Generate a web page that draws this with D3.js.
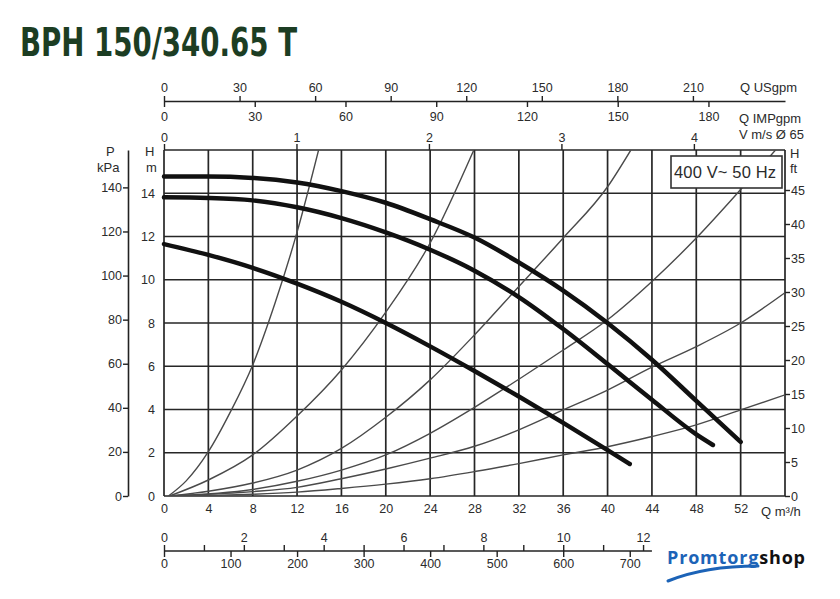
<!DOCTYPE html>
<html>
<head>
<meta charset="utf-8">
<script src="https://cdn.jsdelivr.net/npm/d3@7"></script>
<style>
  body { margin: 0; background: #fff; }
  text { font-family: "Liberation Sans", Arial, sans-serif; fill: #2b2b2b; }
</style>
</head>
<body>
<script>
// flow ticks (m3/h) and head ticks (m)
let qTicks = [0, 4, 8, 12, 16, 20, 24, 28, 32, 36, 40, 44, 48, 52];
let hTicks = [0, 2, 4, 6, 8, 10, 12, 14, 16];
let kpaTicks = [0, 20, 40, 60, 80, 100, 120, 140];
let ftTicks = [0, 5, 10, 15, 20, 25, 30, 35, 40, 45];
let usTicks = [0, 30, 60, 90, 120, 150, 180, 210];
let impTicks = [0, 30, 60, 90, 120, 150, 180];
let velTicks = [0, 1, 2, 3, 4];
let lsTicks = [0, 1, 2, 3, 4, 5, 6, 7, 8, 9, 10, 11, 12];
let lminTicks = [0, 100, 200, 300, 400, 500, 600, 700];

// pump curves [Q m3/h, H m]
let pumpMax = [[0, 14.77], [4, 14.77], [8, 14.71], [12, 14.5], [16, 14.1], [20, 13.56], [24, 12.8], [28, 11.95], [32, 10.8], [36, 9.5], [40, 8.0], [44, 6.3], [48, 4.4], [52, 2.5]];
let pumpMid = [[0, 13.81], [4, 13.78], [8, 13.67], [12, 13.35], [16, 12.85], [20, 12.19], [24, 11.39], [28, 10.42], [32, 9.2], [36, 7.72], [40, 6.1], [44, 4.45], [48, 2.85], [49.5, 2.36]];
let pumpMin = [[0, 11.65], [4, 11.15], [8, 10.55], [12, 9.82], [16, 8.98], [20, 8.0], [24, 6.92], [28, 5.78], [32, 4.6], [36, 3.38], [40, 2.12], [42, 1.48]];

// system curves
let sysA = [[0.4, 0], [2, 0.7], [4, 2.05], [6, 3.9], [8, 6.06], [10, 8.9], [12, 12.2], [13.94, 16]];
let sysB = [[0.5, 0], [4, 0.74], [8, 1.9], [12, 3.7], [16, 5.83], [20, 8.5], [24, 11.7], [27.94, 16]];
let sysC = [[0.5, 0], [4, 0.22], [8, 0.6], [12, 1.2], [16, 2.2], [20, 3.64], [24, 5.37], [28, 7.45], [32, 9.69], [36, 11.93], [40, 14.3], [42.1, 16]];
let sysD = [[0.5, 0], [8, 0.3], [12, 0.68], [16, 1.2], [20, 1.9], [24, 2.9], [28, 4.1], [32, 5.4], [36, 6.75], [40, 8.15], [44, 9.92], [48, 11.93], [52, 14.17], [56, 16.5]];
let sysE = [[0.5, 0], [8, 0.2], [12, 0.4], [16, 0.8], [20, 1.25], [24, 1.75], [28, 2.3], [32, 3.06], [36, 3.98], [40, 4.9], [44, 5.96], [48, 6.91], [52, 8.0], [56, 9.4]];
let sysF = [[0.5, 0], [8, 0.08], [12, 0.18], [16, 0.35], [20, 0.55], [24, 0.8], [28, 1.13], [32, 1.5], [36, 1.9], [40, 2.28], [44, 2.75], [48, 3.29], [52, 3.98], [56, 4.68]];

let w = 840;
let h = 599;

let svg = d3.select("body").append("svg").attr("width", w).attr("height", h);

let x = d3.scaleLinear().domain([0, 56]).range([164, 785]);
let y = d3.scaleLinear().domain([0, 16]).range([496, 150]);

// unit conversions
let area = Math.PI * 0.065 * 0.065 / 4;
let usScale = d3.scaleLinear().domain([0, 56 * 4.4029]).range(x.range());
let impScale = d3.scaleLinear().domain([0, 56 * 3.6662]).range(x.range());
let velScale = d3.scaleLinear().domain([0, 56 / 3600 / area]).range(x.range());
let lsScale = d3.scaleLinear().domain([0, 56 / 3.6]).range(x.range());
let lminScale = d3.scaleLinear().domain([0, 56 * 1000 / 60]).range(x.range());
let kpaScale = d3.scaleLinear().domain([0, 16 * 9.81]).range(y.range());
let ftScale = d3.scaleLinear().domain([0, 45]).range([y(0), 190]);

svg
  .append("text")
  .attr("x", 20)
  .attr("y", 56)
  .attr("textLength", 277)
  .attr("lengthAdjust", "spacingAndGlyphs")
  .style("font-family", "'Liberation Sans Narrow', 'DejaVu Sans Condensed', sans-serif")
  .style("font-weight", "bold")
  .style("font-size", "39px")
  .style("fill", "#1c3d23")
  .text("BPH 150/340.65 T");

// grid
let grid = svg.append("g").attr("stroke", "#262626").attr("stroke-width", 1.7);
grid
  .selectAll(".vg")
  .data(qTicks.concat([56]))
  .enter()
  .append("line")
  .attr("x1", (d) => x(d))
  .attr("x2", (d) => x(d))
  .attr("y1", y(16))
  .attr("y2", y(0));
grid
  .selectAll(".hg")
  .data(hTicks)
  .enter()
  .append("line")
  .attr("x1", x(0))
  .attr("x2", x(56))
  .attr("y1", (d) => y(d))
  .attr("y2", (d) => y(d));

function styleAxis(g) {
  g.attr("font-size", 12.5).attr("font-family", "'Liberation Sans', Arial, sans-serif");
  g.selectAll("line").attr("stroke", "#222").attr("stroke-width", 1.4);
  g.selectAll("path").attr("stroke", "#222").attr("stroke-width", 1.6);
  g.selectAll("text").attr("fill", "#2b2b2b");
}

// top axes
svg
  .append("g")
  .attr("transform", "translate(0,101)")
  .call(d3.axisTop(usScale).tickValues(usTicks).tickSize(5).tickSizeOuter(0).tickPadding(4))
  .call(styleAxis);
svg
  .append("g")
  .attr("transform", "translate(0,101)")
  .call(d3.axisBottom(impScale).tickValues(impTicks).tickSize(6).tickSizeOuter(0).tickPadding(5))
  .call(styleAxis)
  .call((g) => g.select(".domain").remove());
svg
  .append("g")
  .attr("transform", "translate(0," + y(16) + ")")
  .call(d3.axisTop(velScale).tickValues(velTicks).tickSize(6).tickSizeOuter(0).tickPadding(2).tickFormat(d3.format("d")))
  .call(styleAxis)
  .call((g) => g.select(".domain").remove());

// left axes
svg
  .append("g")
  .attr("transform", "translate(128,0)")
  .call(d3.axisLeft(kpaScale).tickValues(kpaTicks).tickSize(5).tickSizeOuter(0).tickPadding(1))
  .call(styleAxis);
svg
  .append("g")
  .attr("transform", "translate(" + x(0) + ",0)")
  .call(d3.axisLeft(y).tickValues(hTicks.slice(0, 8)).tickSize(0).tickPadding(9))
  .call(styleAxis)
  .call((g) => g.select(".domain").remove());

// right axis
svg
  .append("g")
  .attr("transform", "translate(" + x(56) + ",0)")
  .call(d3.axisRight(ftScale).tickValues(ftTicks).tickSize(5).tickSizeOuter(0).tickPadding(1))
  .call(styleAxis)
  .call((g) => g.select(".domain").remove());

// bottom axes
svg
  .append("g")
  .attr("transform", "translate(0," + y(0) + ")")
  .call(d3.axisBottom(x).tickValues(qTicks).tickSize(0).tickPadding(8))
  .call(styleAxis)
  .call((g) => g.select(".domain").remove());
svg
  .append("line")
  .attr("x1", x(0))
  .attr("x2", x(44))
  .attr("y1", 551)
  .attr("y2", 551)
  .attr("stroke", "#222")
  .attr("stroke-width", 1.6);
svg
  .append("g")
  .attr("transform", "translate(0,551)")
  .call(d3.axisTop(lsScale).tickValues(lsTicks).tickSize(6).tickPadding(3).tickFormat((d) => (d % 2 == 0 ? d : "")))
  .call(styleAxis)
  .call((g) => g.select(".domain").remove());
svg
  .append("g")
  .attr("transform", "translate(0,551)")
  .call(d3.axisBottom(lminScale).tickValues(lminTicks).tickSize(6).tickPadding(2))
  .call(styleAxis)
  .call((g) => g.select(".domain").remove());

// axis unit labels
let labels = [
  ["Q USgpm", 740, 92],
  ["Q IMPgpm", 739, 123],
  ["V m/s Ø 65", 739, 139],
  ["Q m³/h", 761, 516],
  ["P", 106, 156],
  ["kPa", 97, 172],
  ["H", 145, 156],
  ["m", 146, 172],
  ["H", 790, 158],
  ["ft", 790, 173],
];
svg
  .selectAll(".unit")
  .data(labels)
  .enter()
  .append("text")
  .attr("x", (d) => d[1])
  .attr("y", (d) => d[2])
  .style("font-size", "13px")
  .text((d) => d[0]);

// curves
let line = d3
  .line()
  .x((d) => x(d[0]))
  .y((d) => y(d[1]))
  .curve(d3.curveMonotoneX);

svg
  .append("clipPath")
  .attr("id", "plot")
  .append("rect")
  .attr("x", x(0))
  .attr("y", y(16))
  .attr("width", x(56) - x(0))
  .attr("height", y(0) - y(16));

svg
  .append("g")
  .attr("clip-path", "url(#plot)")
  .selectAll("path")
  .data([sysA, sysB, sysC, sysD, sysE, sysF])
  .enter()
  .append("path")
  .attr("d", line)
  .attr("fill", "none")
  .attr("stroke", "#4a4a4a")
  .attr("stroke-width", 1.4);

svg
  .append("g")
  .selectAll("path")
  .data([pumpMax, pumpMid, pumpMin])
  .enter()
  .append("path")
  .attr("d", line)
  .attr("fill", "none")
  .attr("stroke", "#111")
  .attr("stroke-width", 4.5)
  .attr("stroke-linecap", "round");

// frequency box
svg
  .append("rect")
  .attr("x", 671)
  .attr("y", 156)
  .attr("width", 111)
  .attr("height", 32)
  .attr("fill", "#fff")
  .attr("stroke", "#333")
  .attr("stroke-width", 1.6);
svg
  .append("text")
  .attr("x", 674)
  .attr("y", 178)
  .attr("textLength", 102)
  .style("font-size", "16.5px")
  .text("400 V~ 50 Hz");

// logo
let logo = svg
  .append("text")
  .attr("x", 667)
  .attr("y", 564)
  .attr("textLength", 138)
  .style("font-family", "'Open Sans', sans-serif")
  .style("font-weight", "bold")
  .style("font-size", "18px");
logo.append("tspan").style("fill", "#1c63b7").text("Promtorg");
logo.append("tspan").style("fill", "#111").text("shop");
svg
  .append("path")
  .attr("d", "M668,581 Q705,566 758,566")
  .attr("fill", "none")
  .attr("stroke", "#1c63b7")
  .attr("stroke-width", 3)
  .attr("stroke-linecap", "round");
</script>
</body>
</html>
